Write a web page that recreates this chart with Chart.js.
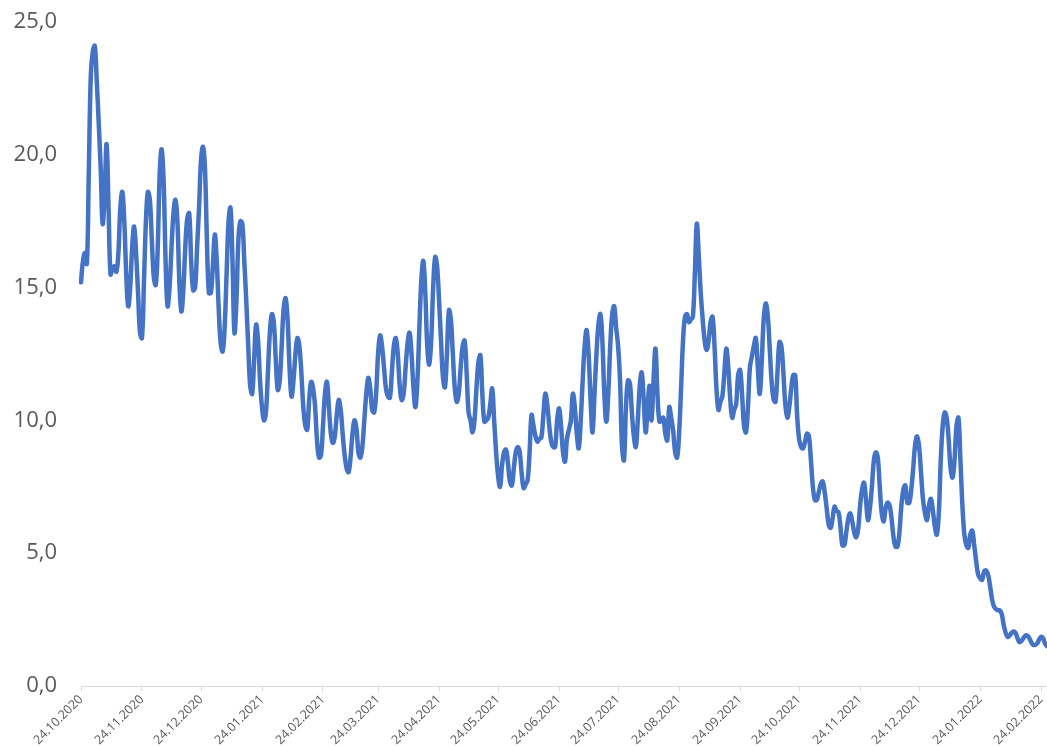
<!DOCTYPE html>
<html>
<head>
<meta charset="utf-8">
<script src="https://cdn.jsdelivr.net/npm/chart.js@4.4.1/dist/chart.umd.min.js"></script>
<style>
  html, body { margin: 0; padding: 0; background: #fff; }
  #wrap { width: 1047px; height: 747px; }
</style>
</head>
<body>
<div id="wrap"><canvas id="chart" width="1047" height="747"></canvas></div>
<script>
// --- DATA ---
// first day of the daily series
const firstDay = [2020, 10, 24];

// labels shown under the x axis
const monthTicks = [
    '24.10.2020', '24.11.2020', '24.12.2020', '24.01.2021', '24.02.2021', '24.03.2021',
    '24.04.2021', '24.05.2021', '24.06.2021', '24.07.2021', '24.08.2021', '24.09.2021',
    '24.10.2021', '24.11.2021', '24.12.2021', '24.01.2022', '24.02.2022'
];

// y axis ticks
const yTicks = [0, 5, 10, 15, 20, 25];

// daily values, 24.10.2020 -> 27.02.2022
const values = [
    15.2, 16.0, 16.3, 15.9, 19.5, 23.0, 23.9, 24.1, 22.8, 21.2,
    19.5, 17.4, 18.5, 20.4, 18.0, 15.5, 15.7, 15.8, 15.6, 16.3,
    18.0, 18.6, 17.5, 15.5, 14.3, 15.0, 16.5, 17.3, 16.3, 14.8,
    13.3, 13.1, 15.2, 17.5, 18.6, 18.3, 16.8, 15.4, 15.1, 16.5,
    19.3, 20.2, 19.0, 16.0, 14.3, 15.0, 16.5, 17.8, 18.3, 17.5,
    15.2, 14.1, 14.9, 16.5, 17.6, 17.8, 16.0, 14.9, 15.0, 16.5,
    18.0, 19.8, 20.3, 19.5, 16.8, 14.8, 14.8, 15.8, 17.0, 16.0,
    14.2, 12.9, 12.6, 13.5, 15.5, 17.5, 18.0, 16.0, 13.3, 14.5,
    16.8, 17.5, 17.4, 16.0, 14.5, 12.8, 11.3, 11.0, 12.3, 13.6,
    13.0, 11.5, 10.5, 10.0, 10.3, 11.8, 13.3, 14.0, 13.7, 12.3,
    11.15, 11.5, 12.8, 14.2, 14.6, 13.8, 12.0, 10.9, 11.5, 12.5,
    13.1, 12.8, 11.8, 10.5, 9.8, 9.65, 10.8, 11.45, 11.2, 10.5,
    9.2, 8.6, 8.7, 9.8, 11.0, 11.45, 10.5, 9.5, 9.15, 9.4,
    10.2, 10.77, 10.4, 9.5, 8.7, 8.2, 8.05, 8.6, 9.5, 10.0,
    9.7, 8.8, 8.6, 9.0, 10.0, 11.0, 11.6, 11.2, 10.4, 10.3,
    11.0, 12.5, 13.2, 12.8, 12.0, 11.2, 10.9, 10.85, 11.8, 12.8,
    13.1, 12.5, 11.3, 10.77, 11.0, 12.0, 12.9, 13.3, 12.5, 11.2,
    10.5, 11.5, 13.5, 15.3, 16.0, 14.8, 12.8, 12.1, 13.0, 15.0,
    16.15, 15.8, 14.5, 13.0, 11.6, 11.25, 12.5, 14.15, 13.8, 12.5,
    11.2, 10.7, 11.0, 12.0, 12.8, 13.0, 11.8, 10.3, 10.0, 9.55,
    10.0, 11.2, 12.2, 12.45, 11.0, 9.95, 10.0, 10.1, 10.6, 11.2,
    10.0, 8.8, 7.9, 7.5, 8.3, 8.8, 8.9, 8.4, 7.7, 7.55,
    8.2, 8.8, 9.0, 8.8, 8.0, 7.45, 7.6, 7.75, 8.8, 10.2,
    9.8, 9.4, 9.2, 9.3, 9.35, 10.2, 11.0, 10.6, 9.8, 9.2,
    9.0, 9.0, 10.0, 10.45, 9.8, 8.8, 8.45, 9.3, 9.65, 10.0,
    11.0, 10.5, 9.5, 8.95, 10.0, 11.5, 12.8, 13.4, 12.5, 10.8,
    9.55, 11.0, 12.5, 13.6, 14.0, 13.0, 11.0, 9.95, 11.0, 12.8,
    14.0, 14.3, 13.5, 12.8, 11.5, 9.0, 8.5, 10.5, 11.5, 11.4,
    10.3, 9.4, 9.0, 10.0, 11.3, 11.8, 10.8, 9.55, 10.5, 11.3,
    10.0, 11.5, 12.7, 11.0, 9.95, 10.0, 10.1, 9.5, 9.25, 10.5,
    10.1, 9.6, 8.8, 8.6, 9.5, 11.2, 13.0, 13.9, 14.0, 13.7,
    13.8, 13.9, 15.5, 17.4, 16.2, 14.8, 13.8, 13.0, 12.65, 13.0,
    13.7, 13.9, 12.8, 11.2, 10.4, 10.7, 10.9, 11.8, 12.7, 12.0,
    10.8, 10.1, 10.4, 10.6, 11.7, 11.9, 11.0, 9.8, 9.55, 10.5,
    12.0, 12.4, 12.8, 13.1, 12.0, 11.0, 12.2, 13.8, 14.4, 14.0,
    12.8, 11.5, 10.8, 10.7, 11.8, 12.95, 12.8, 11.8, 10.6, 10.1,
    10.5, 11.2, 11.7, 11.7, 10.2, 9.3, 9.0, 8.95, 9.2, 9.5,
    9.4, 8.5, 7.5, 7.0, 7.0, 7.3, 7.6, 7.7, 7.3, 6.7,
    6.1, 5.95, 6.3, 6.75, 6.6, 6.55, 6.0, 5.3, 5.3, 5.8,
    6.3, 6.5, 6.2, 5.8, 5.6, 5.9, 6.8, 7.4, 7.65, 7.0,
    6.25, 6.7, 7.5, 8.5, 8.8, 8.6, 7.5, 6.5, 6.2, 6.7,
    6.9, 6.8, 6.3, 5.6, 5.25, 5.25, 5.8, 6.8, 7.4, 7.55,
    6.9, 6.9, 7.4, 8.2, 9.1, 9.4, 9.0, 8.0, 7.0, 6.5,
    6.25, 6.8, 7.05, 6.6, 6.0, 5.7, 6.5, 8.5, 9.8, 10.3,
    10.1, 9.3, 8.2, 7.85, 8.5, 9.8, 10.1, 8.5, 6.8, 5.7,
    5.3, 5.2, 5.7, 5.85, 5.3, 4.7, 4.2, 4.05, 4.0, 4.3,
    4.35, 4.2, 3.8, 3.3, 3.0, 2.9, 2.85, 2.85, 2.7, 2.3,
    2.0, 1.85, 1.9, 2.0, 2.05, 2.0, 1.8, 1.65, 1.7, 1.8,
    1.9, 1.9, 1.8, 1.65, 1.55, 1.55, 1.6, 1.75, 1.85, 1.8,
    1.6, 1.5
];

// --- CATEGORIES (one per day, dd.mm.yyyy) ---
const pad = n => String(n).padStart(2, '0');
const days = values.map((v, i) => {
    const d = new Date(Date.UTC(firstDay[0], firstDay[1] - 1, firstDay[2] + i));
    return pad(d.getUTCDate()) + '.' + pad(d.getUTCMonth() + 1) + '.' + d.getUTCFullYear();
});

const textColor = '#595959';
const axisColor = '#d9d9d9';

// --- CHART ---
const ctx = document.getElementById('chart').getContext('2d');
new Chart(ctx, {
    type: 'line',
    data: {
        labels: days,
        datasets: [{
            data: values,
            borderColor: '#4472C4',
            borderWidth: 4.5,
            pointRadius: 0,
            fill: false,
            tension: 0.4,
            borderCapStyle: 'round',
            borderJoinStyle: 'round'
        }]
    },
    options: {
        responsive: false,
        animation: false,
        layout: { padding: { top: 22, right: 0, bottom: 0, left: 0 } },
        plugins: {
            legend: { display: false },
            tooltip: { enabled: false }
        },
        scales: {
            x: {
                type: 'category',
                offset: false,
                // keep only the monthly ticks
                afterBuildTicks: scale => {
                    scale.ticks = scale.ticks.filter(t => monthTicks.includes(days[t.value]));
                },
                afterFit: scale => {
                    scale.height = 61;
                    scale.paddingLeft = 0;
                    scale.paddingRight = 0;
                },
                grid: { drawOnChartArea: false, color: axisColor, tickLength: 5, offset: false },
                border: { color: axisColor, width: 1 },
                ticks: {
                    autoSkip: false,
                    maxRotation: 45,
                    minRotation: 45,
                    padding: 1,
                    color: textColor,
                    font: { family: 'Open Sans', size: 12.5 }
                }
            },
            y: {
                min: 0,
                max: 25,
                afterBuildTicks: scale => {
                    scale.ticks = yTicks.map(v => ({ value: v }));
                },
                afterFit: scale => {
                    scale.width = 81;
                    // no extra room for half labels, top/bottom fixed by layout
                    scale.paddingTop = 0;
                    scale.paddingBottom = 0;
                },
                grid: { display: false, drawTicks: false },
                border: { display: false },
                ticks: {
                    padding: 24,
                    color: textColor,
                    font: { family: 'Open Sans', size: 22 },
                    callback: v => v.toFixed(1).replace('.', ',')
                }
            }
        }
    }
});
</script>
</body>
</html>
